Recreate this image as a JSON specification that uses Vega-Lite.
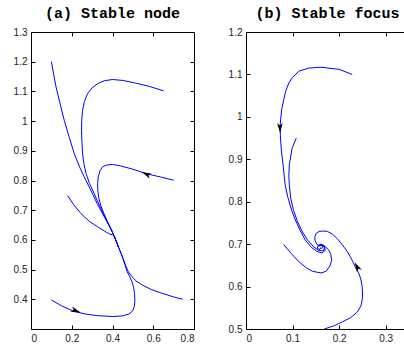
{
  "$schema": "https://vega.github.io/schema/vega-lite/v6.json",
  "padding": {"left": 12, "top": 5, "right": 0, "bottom": 2},
  "bounds": "flush",
  "spacing": 52,
  "config": {
    "view": {"stroke": "black", "strokeWidth": 1},
    "axis": {"labelFont": "Liberation Sans", "labelFontSize": 10, "labelColor": "#222", "domain": false, "grid": false, "tickColor": "black", "tickSize": -4, "tickWidth": 1, "labelPadding": 8, "title": null},
    "title": {"font": "Liberation Mono", "fontSize": 15, "fontWeight": "bold", "color": "black", "offset": 6}
  },
  "datasets": {
    "a": [
      {"c":"A1","i":0,"x":0.100,"y":1.200},{"c":"A1","i":1,"x":0.112,"y":1.155},{"c":"A1","i":2,"x":0.123,"y":1.115},{"c":"A1","i":3,"x":0.143,"y":1.058},{"c":"A1","i":4,"x":0.163,"y":1.003},{"c":"A1","i":5,"x":0.188,"y":0.945},{"c":"A1","i":6,"x":0.212,"y":0.891},{"c":"A1","i":7,"x":0.240,"y":0.843},{"c":"A1","i":8,"x":0.270,"y":0.800},{"c":"A1","i":9,"x":0.300,"y":0.758},{"c":"A1","i":10,"x":0.325,"y":0.722},{"c":"A1","i":11,"x":0.350,"y":0.690},{"c":"A1","i":12,"x":0.370,"y":0.665},{"c":"A1","i":13,"x":0.390,"y":0.640},{"c":"A1","i":14,"x":0.410,"y":0.610},{"c":"A1","i":15,"x":0.430,"y":0.575},
      {"c":"A2","i":0,"x":0.650,"y":1.102},{"c":"A2","i":1,"x":0.580,"y":1.117},{"c":"A2","i":2,"x":0.513,"y":1.128},{"c":"A2","i":3,"x":0.450,"y":1.137},{"c":"A2","i":4,"x":0.400,"y":1.140},{"c":"A2","i":5,"x":0.360,"y":1.136},{"c":"A2","i":6,"x":0.327,"y":1.126},{"c":"A2","i":7,"x":0.300,"y":1.112},{"c":"A2","i":8,"x":0.278,"y":1.093},{"c":"A2","i":9,"x":0.262,"y":1.066},{"c":"A2","i":10,"x":0.253,"y":1.036},{"c":"A2","i":11,"x":0.249,"y":1.002},{"c":"A2","i":12,"x":0.248,"y":0.969},{"c":"A2","i":13,"x":0.250,"y":0.930},{"c":"A2","i":14,"x":0.253,"y":0.891},{"c":"A2","i":15,"x":0.260,"y":0.855},{"c":"A2","i":16,"x":0.270,"y":0.824},{"c":"A2","i":17,"x":0.287,"y":0.790},{"c":"A2","i":18,"x":0.310,"y":0.756},{"c":"A2","i":19,"x":0.333,"y":0.720},{"c":"A2","i":20,"x":0.354,"y":0.690},{"c":"A2","i":21,"x":0.372,"y":0.664},{"c":"A2","i":22,"x":0.390,"y":0.640},{"c":"A2","i":23,"x":0.410,"y":0.610},{"c":"A2","i":24,"x":0.430,"y":0.575},
      {"c":"A3","i":0,"x":0.700,"y":0.801},{"c":"A3","i":1,"x":0.635,"y":0.812},{"c":"A3","i":2,"x":0.570,"y":0.822},{"c":"A3","i":3,"x":0.500,"y":0.838},{"c":"A3","i":4,"x":0.440,"y":0.849},{"c":"A3","i":5,"x":0.400,"y":0.854},{"c":"A3","i":6,"x":0.370,"y":0.852},{"c":"A3","i":7,"x":0.351,"y":0.846},{"c":"A3","i":8,"x":0.338,"y":0.832},{"c":"A3","i":9,"x":0.330,"y":0.812},{"c":"A3","i":10,"x":0.327,"y":0.790},{"c":"A3","i":11,"x":0.328,"y":0.765},{"c":"A3","i":12,"x":0.333,"y":0.740},{"c":"A3","i":13,"x":0.343,"y":0.715},{"c":"A3","i":14,"x":0.357,"y":0.690},{"c":"A3","i":15,"x":0.374,"y":0.664},{"c":"A3","i":16,"x":0.392,"y":0.638},{"c":"A3","i":17,"x":0.410,"y":0.610},{"c":"A3","i":18,"x":0.430,"y":0.575},
      {"c":"A4","i":0,"x":0.180,"y":0.749},{"c":"A4","i":1,"x":0.210,"y":0.718},{"c":"A4","i":2,"x":0.245,"y":0.689},{"c":"A4","i":3,"x":0.285,"y":0.663},{"c":"A4","i":4,"x":0.327,"y":0.644},{"c":"A4","i":5,"x":0.360,"y":0.630},{"c":"A4","i":6,"x":0.385,"y":0.620},{"c":"A4","i":7,"x":0.400,"y":0.617},{"c":"A4","i":8,"x":0.408,"y":0.613},{"c":"A4","i":9,"x":0.418,"y":0.597},{"c":"A4","i":10,"x":0.430,"y":0.575},
      {"c":"A5","i":0,"x":0.100,"y":0.398},{"c":"A5","i":1,"x":0.150,"y":0.378},{"c":"A5","i":2,"x":0.212,"y":0.359},{"c":"A5","i":3,"x":0.270,"y":0.350},{"c":"A5","i":4,"x":0.327,"y":0.345},{"c":"A5","i":5,"x":0.400,"y":0.342},{"c":"A5","i":6,"x":0.448,"y":0.344},{"c":"A5","i":7,"x":0.480,"y":0.350},{"c":"A5","i":8,"x":0.498,"y":0.360},{"c":"A5","i":9,"x":0.507,"y":0.375},{"c":"A5","i":10,"x":0.510,"y":0.395},{"c":"A5","i":11,"x":0.508,"y":0.420},{"c":"A5","i":12,"x":0.503,"y":0.442},{"c":"A5","i":13,"x":0.495,"y":0.460},{"c":"A5","i":14,"x":0.484,"y":0.477},{"c":"A5","i":15,"x":0.472,"y":0.493},{"c":"A5","i":16,"x":0.460,"y":0.518},{"c":"A5","i":17,"x":0.447,"y":0.545},{"c":"A5","i":18,"x":0.430,"y":0.575},
      {"c":"A6","i":0,"x":0.745,"y":0.400},{"c":"A6","i":1,"x":0.700,"y":0.408},{"c":"A6","i":2,"x":0.644,"y":0.420},{"c":"A6","i":3,"x":0.590,"y":0.433},{"c":"A6","i":4,"x":0.546,"y":0.448},{"c":"A6","i":5,"x":0.515,"y":0.462},{"c":"A6","i":6,"x":0.495,"y":0.477},{"c":"A6","i":7,"x":0.478,"y":0.492},{"c":"A6","i":8,"x":0.465,"y":0.513},{"c":"A6","i":9,"x":0.450,"y":0.541},{"c":"A6","i":10,"x":0.430,"y":0.575}
    ],
    "b": [
      {"c":"B1","i":0,"x":0.228,"y":1.100},{"c":"B1","i":1,"x":0.200,"y":1.112},{"c":"B1","i":2,"x":0.161,"y":1.117},{"c":"B1","i":3,"x":0.135,"y":1.115},{"c":"B1","i":4,"x":0.114,"y":1.108},{"c":"B1","i":5,"x":0.100,"y":1.093},{"c":"B1","i":6,"x":0.092,"y":1.080},{"c":"B1","i":7,"x":0.085,"y":1.060},{"c":"B1","i":8,"x":0.081,"y":1.040},{"c":"B1","i":9,"x":0.077,"y":1.020},{"c":"B1","i":10,"x":0.075,"y":1.000},{"c":"B1","i":11,"x":0.073,"y":0.977},{"c":"B1","i":12,"x":0.074,"y":0.950},{"c":"B1","i":13,"x":0.076,"y":0.920},{"c":"B1","i":14,"x":0.080,"y":0.883},{"c":"B1","i":15,"x":0.084,"y":0.840},{"c":"B1","i":16,"x":0.090,"y":0.810},{"c":"B1","i":17,"x":0.098,"y":0.780},{"c":"B1","i":18,"x":0.106,"y":0.757},{"c":"B1","i":19,"x":0.116,"y":0.733},{"c":"B1","i":20,"x":0.127,"y":0.710},{"c":"B1","i":21,"x":0.140,"y":0.693},{"c":"B1","i":22,"x":0.152,"y":0.683},{"c":"B1","i":23,"x":0.163,"y":0.679},{"c":"B1","i":24,"x":0.170,"y":0.685},{"c":"B1","i":25,"x":0.168,"y":0.697},{"c":"B1","i":26,"x":0.160,"y":0.700},{"c":"B1","i":27,"x":0.155,"y":0.695},
      {"c":"B2","i":0,"x":0.108,"y":0.950},{"c":"B2","i":1,"x":0.099,"y":0.926},{"c":"B2","i":2,"x":0.093,"y":0.887},{"c":"B2","i":3,"x":0.092,"y":0.860},{"c":"B2","i":4,"x":0.093,"y":0.840},{"c":"B2","i":5,"x":0.096,"y":0.808},{"c":"B2","i":6,"x":0.102,"y":0.780},{"c":"B2","i":7,"x":0.110,"y":0.755},{"c":"B2","i":8,"x":0.120,"y":0.731},{"c":"B2","i":9,"x":0.132,"y":0.710},{"c":"B2","i":10,"x":0.145,"y":0.694},{"c":"B2","i":11,"x":0.156,"y":0.685},{"c":"B2","i":12,"x":0.166,"y":0.684},{"c":"B2","i":13,"x":0.169,"y":0.692},{"c":"B2","i":14,"x":0.163,"y":0.699},{"c":"B2","i":15,"x":0.157,"y":0.696},
      {"c":"B3","i":0,"x":0.081,"y":0.699},{"c":"B3","i":1,"x":0.097,"y":0.678},{"c":"B3","i":2,"x":0.114,"y":0.658},{"c":"B3","i":3,"x":0.130,"y":0.644},{"c":"B3","i":4,"x":0.143,"y":0.636},{"c":"B3","i":5,"x":0.161,"y":0.632},{"c":"B3","i":6,"x":0.172,"y":0.636},{"c":"B3","i":7,"x":0.180,"y":0.648},{"c":"B3","i":8,"x":0.184,"y":0.662},{"c":"B3","i":9,"x":0.182,"y":0.676},{"c":"B3","i":10,"x":0.178,"y":0.686},{"c":"B3","i":11,"x":0.170,"y":0.694},{"c":"B3","i":12,"x":0.162,"y":0.698},{"c":"B3","i":13,"x":0.155,"y":0.697},{"c":"B3","i":14,"x":0.153,"y":0.690},{"c":"B3","i":15,"x":0.158,"y":0.687},{"c":"B3","i":16,"x":0.160,"y":0.692},
      {"c":"B4","i":0,"x":0.168,"y":0.500},{"c":"B4","i":1,"x":0.190,"y":0.508},{"c":"B4","i":2,"x":0.207,"y":0.517},{"c":"B4","i":3,"x":0.225,"y":0.527},{"c":"B4","i":4,"x":0.239,"y":0.540},{"c":"B4","i":5,"x":0.247,"y":0.555},{"c":"B4","i":6,"x":0.250,"y":0.572},{"c":"B4","i":7,"x":0.250,"y":0.590},{"c":"B4","i":8,"x":0.249,"y":0.603},{"c":"B4","i":9,"x":0.246,"y":0.620},{"c":"B4","i":10,"x":0.241,"y":0.634},{"c":"B4","i":11,"x":0.236,"y":0.643},{"c":"B4","i":12,"x":0.228,"y":0.662},{"c":"B4","i":13,"x":0.218,"y":0.682},{"c":"B4","i":14,"x":0.207,"y":0.698},{"c":"B4","i":15,"x":0.196,"y":0.713},{"c":"B4","i":16,"x":0.186,"y":0.723},{"c":"B4","i":17,"x":0.175,"y":0.730},{"c":"B4","i":18,"x":0.165,"y":0.731},{"c":"B4","i":19,"x":0.157,"y":0.730},{"c":"B4","i":20,"x":0.151,"y":0.726},{"c":"B4","i":21,"x":0.148,"y":0.718},{"c":"B4","i":22,"x":0.148,"y":0.709},{"c":"B4","i":23,"x":0.152,"y":0.700},{"c":"B4","i":24,"x":0.158,"y":0.696},{"c":"B4","i":25,"x":0.163,"y":0.697},{"c":"B4","i":26,"x":0.165,"y":0.692},{"c":"B4","i":27,"x":0.160,"y":0.689}
    ],
    "arrA": [
      {"x":0.568,"y":0.821,"heading":295},
      {"x":0.218,"y":0.362,"heading":110}
    ],
    "arrB": [
      {"x":0.073,"y":0.975,"heading":178},
      {"x":0.239,"y":0.646,"heading":332}
    ]
  },
  "hconcat": [
    {
      "width": 163,
      "height": 297,
      "title": "(a) Stable node",
      "layer": [
        {
          "data": {"name": "a"},
          "mark": {"type": "line", "color": "#0000ff", "strokeWidth": 1, "clip": true},
          "encoding": {
            "x": {"field": "x", "type": "quantitative", "scale": {"domain": [0, 0.8], "nice": false, "zero": false}, "axis": {"orient": "bottom", "values": [0, 0.2, 0.4, 0.6, 0.8], "format": "~g"}},
            "y": {"field": "y", "type": "quantitative", "scale": {"domain": [0.3, 1.3], "nice": false, "zero": false}, "axis": {"orient": "left", "values": [0.4, 0.5, 0.6, 0.7, 0.8, 0.9, 1, 1.1, 1.2, 1.3], "format": "~g"}},
            "detail": {"field": "c"},
            "order": {"field": "i", "type": "quantitative"}
          }
        },
        {
          "data": {"name": "arrA"},
          "mark": {"type": "point", "shape": "M0,-1L0.5,0.8L0,0.35L-0.5,0.8Z", "filled": true, "color": "black", "opacity": 1, "size": 121},
          "encoding": {
            "x": {"field": "x", "type": "quantitative", "axis": {"orient": "top", "values": [0.2, 0.4, 0.6], "labels": false}},
            "y": {"field": "y", "type": "quantitative", "axis": {"orient": "right", "values": [0.4, 0.5, 0.6, 0.7, 0.8, 0.9, 1, 1.1, 1.2], "labels": false}},
            "angle": {"field": "heading", "type": "quantitative", "scale": null}
          }
        }
      ],
      "resolve": {"axis": {"x": "independent", "y": "independent"}}
    },
    {
      "width": 163,
      "height": 297,
      "title": "(b) Stable focus",
      "layer": [
        {
          "data": {"name": "b"},
          "mark": {"type": "line", "color": "#0000ff", "strokeWidth": 1, "clip": true},
          "encoding": {
            "x": {"field": "x", "type": "quantitative", "scale": {"domain": [0, 0.35], "nice": false, "zero": false}, "axis": {"orient": "bottom", "values": [0, 0.1, 0.2, 0.3], "format": "~g"}},
            "y": {"field": "y", "type": "quantitative", "scale": {"domain": [0.5, 1.2], "nice": false, "zero": false}, "axis": {"orient": "left", "values": [0.5, 0.6, 0.7, 0.8, 0.9, 1, 1.1, 1.2], "format": "~g"}},
            "detail": {"field": "c"},
            "order": {"field": "i", "type": "quantitative"}
          }
        },
        {
          "data": {"name": "arrB"},
          "mark": {"type": "point", "shape": "M0,-1L0.5,0.8L0,0.35L-0.5,0.8Z", "filled": true, "color": "black", "opacity": 1, "size": 121},
          "encoding": {
            "x": {"field": "x", "type": "quantitative", "axis": {"orient": "top", "values": [0.1, 0.2, 0.3], "labels": false}},
            "y": {"field": "y", "type": "quantitative", "axis": {"orient": "right", "values": [0.6, 0.7, 0.8, 0.9, 1, 1.1], "labels": false}},
            "angle": {"field": "heading", "type": "quantitative", "scale": null}
          }
        }
      ],
      "resolve": {"axis": {"x": "independent", "y": "independent"}}
    }
  ]
}
